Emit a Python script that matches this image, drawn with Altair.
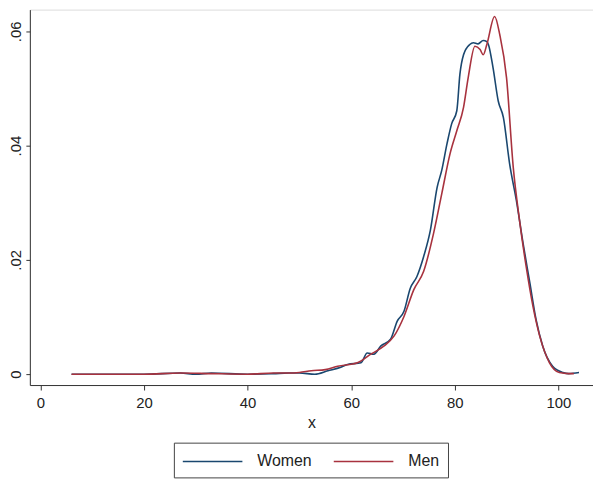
import altair as alt
import pandas as pd

# Women (blue) density
women_x = [6, 20, 27, 30, 33, 40, 45, 48, 50, 53, 55.5, 58, 59.3, 61.9, 63.1, 64.4, 65.7, 67.6,
           68.9, 70.2, 71.4, 72.7, 74.0, 75.3, 76.6, 77.5, 78.5, 79.4, 80.4, 81.0, 81.7, 82.9,
           83.6, 84.5, 85.5, 86.2, 86.5, 87.4, 88.4, 89.4, 90.6, 91.9, 93.2, 94.5, 95.7, 97.0,
           98.9, 100.9, 102, 104]
women_y = [0, 0, 0.0002, 0, 0.0002, 0, 0.0001, 0.0002, 0.0002, 0, 0.0006, 0.0012, 0.0017, 0.0020,
           0.0037, 0.0035, 0.0049, 0.0061, 0.0093, 0.0110, 0.0150, 0.0171, 0.0206, 0.0252, 0.0327,
           0.0357, 0.0403, 0.0438, 0.0461, 0.0525, 0.0559, 0.0577, 0.0580, 0.0578, 0.0584, 0.0582,
           0.0577, 0.0536, 0.0478, 0.0449, 0.0368, 0.0304, 0.0229, 0.0160, 0.0096, 0.0049, 0.0014,
           0.0003, 0.0001, 0.0003]

# Men (red) density
men_x = [6, 20, 27, 33, 40, 45, 48, 50, 52.3, 55, 57.4, 61.2, 63.8, 66.3, 68.3, 70.2, 72.1, 74.0,
         75.9, 77.5, 79.1, 80.4, 81.7, 82.6, 83.9, 84.9, 85.5, 86.2, 87.7, 88.7, 90.0, 91.3, 92.5,
         93.8, 95.1, 96.4, 98.3, 100.2, 102, 103]
men_y = [0, 0, 0.0002, 0.0001, 0, 0.0002, 0.0002, 0.0003, 0.0006, 0.0008, 0.0014, 0.0020, 0.0035,
         0.0049, 0.0067, 0.0101, 0.0148, 0.0180, 0.0246, 0.0316, 0.0386, 0.0426, 0.0467, 0.0519,
         0.0574, 0.0568, 0.0559, 0.0577, 0.0626, 0.0594, 0.0519, 0.0362, 0.0270, 0.0188, 0.0119,
         0.0067, 0.0020, 0.0003, 0.0001, 0.0001]

series = ["Women", "Men"]
colors = ["#1a476f", "#a8323e"]
x_ticks = [0, 20, 40, 60, 80, 100]
y_ticks = [0, 0.02, 0.04, 0.06]

df = pd.concat([
    pd.DataFrame({"x": women_x, "y": women_y, "group": "Women", "order": range(len(women_x))}),
    pd.DataFrame({"x": men_x, "y": men_y, "group": "Men", "order": range(len(men_x))}),
])

FONT = "Liberation Sans"

chart = alt.Chart(df).mark_line(strokeWidth=1.6, interpolate="monotone").encode(
    x=alt.X("x:Q", scale=alt.Scale(domain=[-2.05, 106.7], nice=False, zero=False),
            axis=alt.Axis(values=x_ticks, title="x", grid=False, tickSize=5, labelPadding=6,
                          labelFontSize=15, titleFontSize=16, titleFontWeight="normal",
                          titlePadding=4, labelFont=FONT, titleFont=FONT,
                          domainColor="#333", tickColor="#333", labelColor="#222",
                          titleColor="#222", labelFlush=False)),
    y=alt.Y("y:Q", scale=alt.Scale(domain=[-0.0019, 0.0638], nice=False, zero=False),
            axis=alt.Axis(values=y_ticks, title=None, grid=False, tickSize=4, labelPadding=2,
                          labelAngle=-90, labelFontSize=15, labelFont=FONT,
                          labelExpr="datum.value == 0 ? '0' : substring(format(datum.value, '.2f'), 1)",
                          domainColor="#333", tickColor="#333", labelColor="#222",
                          labelFlush=False)),
    color=alt.Color("group:N", scale=alt.Scale(domain=series, range=colors),
                    legend=alt.Legend(orient="none", legendX=145, legendY=436,
                                      direction="horizontal", title=None,
                                      symbolType="M-1,0H5", symbolSize=400,
                                      symbolStrokeWidth=1.6, labelFontSize=16,
                                      labelFont=FONT, labelColor="#222",
                                      strokeColor="#444", fillColor="white",
                                      padding=8, columnPadding=18, labelOffset=54)),
    order="order:Q",
).properties(
    width=567, height=378,
    autosize=alt.AutoSizeParams(type="none"),
    padding={"left": 22, "top": 0, "right": 0, "bottom": 95},
).configure_view(stroke=None).configure(background="white")

chart.save("out.html", embed_options={"renderer": "svg", "actions": False})
